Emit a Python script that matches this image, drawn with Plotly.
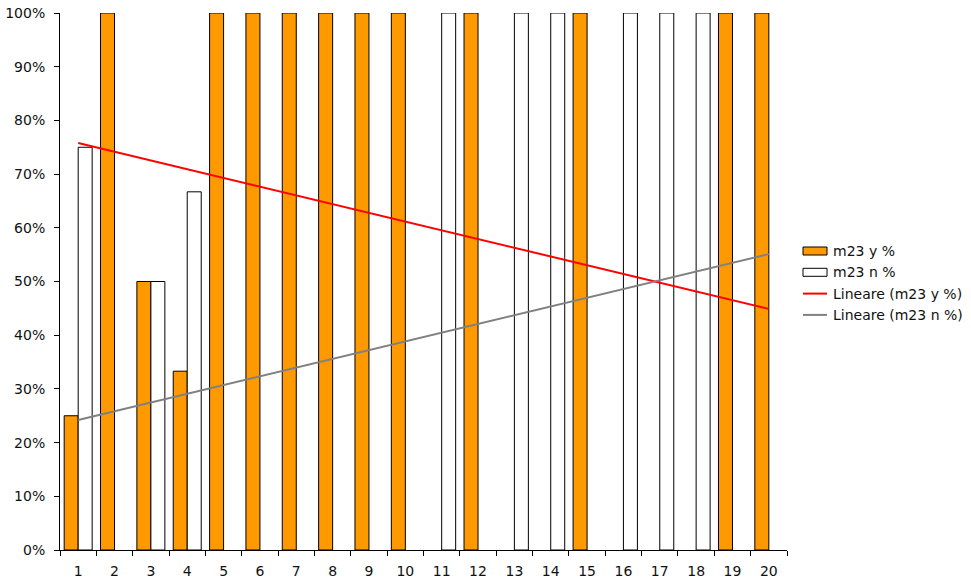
import plotly.graph_objects as go

# Categories 1..20
categories = [str(i) for i in range(1, 21)]

# Share of "y" and "n" answers per category (fraction of 1)
m23_y = [0.25, 1.0, 0.5, 0.333, 1.0, 1.0, 1.0, 1.0, 1.0, 1.0,
         0.0, 1.0, 0.0, 0.0, 1.0, 0.0, 0.0, 0.0, 1.0, 1.0]
m23_n = [0.75, 0.0, 0.5, 0.667, 0.0, 0.0, 0.0, 0.0, 0.0, 0.0,
         1.0, 0.0, 1.0, 1.0, 0.0, 1.0, 1.0, 1.0, 0.0, 0.0]

# Linear trend lines (value at first and last category)
trend_x = ["1", "20"]
trend_y = [0.758, 0.449]
trend_n = [0.242, 0.551]

font_family = "DejaVu Sans, Verdana, sans-serif"
text_color = "#111111"

ORANGE = "#FF9900"
RED = "#FF0000"
GRAY = "#808080"

# Plot area in pixels (used to place the hand-drawn legend)
W, H = 971, 581
ML, MR, MT, MB = 60, 184, 13, 31
PW, PH = W - ML - MR, H - MT - MB


def px_x(px):
    return (px - ML) / PW


def px_y(py):
    return (H - MB - py) / PH


def nonzero(vals):
    return [v if v > 0 else None for v in vals]


fig = go.Figure()
fig.add_trace(go.Bar(
    x=categories, y=nonzero(m23_y), name="m23 y %",
    marker=dict(color=ORANGE, line=dict(color="#000000", width=1)),
))
fig.add_trace(go.Bar(
    x=categories, y=nonzero(m23_n), name="m23 n %",
    marker=dict(color="#FFFFFF", line=dict(color="#000000", width=1)),
))
fig.add_trace(go.Scatter(
    x=trend_x, y=trend_y, mode="lines", name="Lineare (m23 y %)",
    line=dict(color=RED, width=2),
))
fig.add_trace(go.Scatter(
    x=trend_x, y=trend_n, mode="lines", name="Lineare (m23 n %)",
    line=dict(color=GRAY, width=2),
))

# Legend drawn with shapes so the bar keys are wide flat boxes
legend_items = [
    ("m23 y %", "box", ORANGE),
    ("m23 n %", "box", "#FFFFFF"),
    ("Lineare (m23 y %)", "line", RED),
    ("Lineare (m23 n %)", "line", GRAY),
]
shapes = []
annotations = []
key_x0, key_x1, text_x = 803, 827, 831
row_y0, row_step = 251, 21.3
for i, (label, kind, color) in enumerate(legend_items):
    cy = row_y0 + i * row_step
    if kind == "box":
        shapes.append(dict(
            type="rect", xref="paper", yref="paper",
            x0=px_x(key_x0), x1=px_x(key_x1),
            y0=px_y(cy + 4), y1=px_y(cy - 4),
            fillcolor=color, line=dict(color="#000000", width=1),
        ))
    else:
        shapes.append(dict(
            type="line", xref="paper", yref="paper",
            x0=px_x(key_x0), x1=px_x(key_x1),
            y0=px_y(cy), y1=px_y(cy),
            line=dict(color=color, width=2),
        ))
    annotations.append(dict(
        xref="paper", yref="paper", x=px_x(text_x), y=px_y(cy),
        xanchor="left", yanchor="middle", text=label, showarrow=False,
        font=dict(family=font_family, size=14, color=text_color),
    ))

fig.update_layout(
    width=W, height=H,
    margin=dict(l=ML, r=MR, t=MT, b=MB),
    paper_bgcolor="white", plot_bgcolor="white",
    barmode="group", bargap=0.23, bargroupgap=0,
    font=dict(family=font_family, size=14, color=text_color),
    showlegend=False,
    shapes=shapes,
    annotations=annotations,
    xaxis=dict(
        type="category", categoryorder="array", categoryarray=categories,
        showline=True, linecolor="#000000", linewidth=1,
        ticks="outside", tickson="boundaries", ticklen=5, tickcolor="#000000",
        showgrid=False, zeroline=False, automargin=False,
        ticklabelstandoff=8,
        tickfont=dict(size=14, color=text_color),
    ),
    yaxis=dict(
        range=[0, 1], dtick=0.1, tickformat=".0%",
        showline=True, linecolor="#000000", linewidth=1,
        ticks="outside", ticklen=5, tickcolor="#000000",
        showgrid=False, zeroline=False, automargin=False,
        ticklabelstandoff=6,
        tickfont=dict(size=14, color=text_color),
    ),
)

fig.write_html("out.html")
